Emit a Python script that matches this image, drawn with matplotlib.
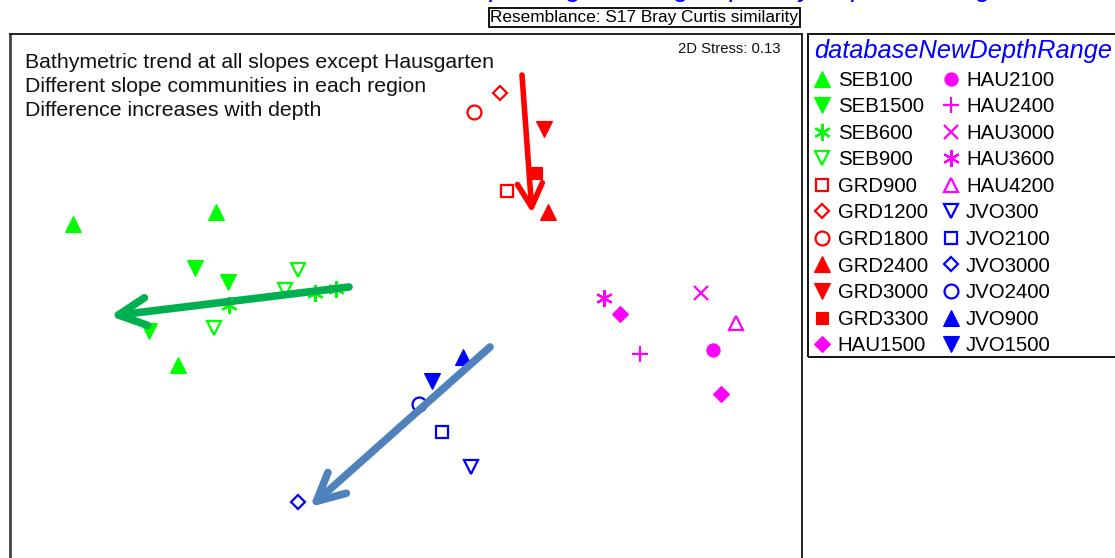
#!/usr/bin/env python3
"""
nMDS ordination of slope samples by region and depth range.
"""

import matplotlib
matplotlib.use("Agg")
import matplotlib.pyplot as plt
from matplotlib.lines import Line2D
from matplotlib.patches import FancyArrowPatch, Rectangle

plt.rcParams['font.family'] = ['Liberation Sans', 'DejaVu Sans']

# --- data (MDS coordinates) ---
groups = ['SEB100', 'SEB1500', 'SEB600', 'SEB900',
          'GRD900', 'GRD1200', 'GRD1800', 'GRD2400', 'GRD3000', 'GRD3300',
          'HAU1500', 'HAU2100', 'HAU2400', 'HAU3000', 'HAU3600', 'HAU4200',
          'JVO300', 'JVO2100', 'JVO3000', 'JVO2400', 'JVO900', 'JVO1500']

mds_x = {
    'SEB100': [-3.27, -1.84, -2.22],
    'SEB1500': [-2.05, -1.72, -2.51],
    'SEB600': [-1.71, -0.85, -0.64],
    'SEB900': [-1.02, -1.15, -1.86],
    'GRD900': [1.07],
    'GRD1200': [1.00],
    'GRD1800': [0.74],
    'GRD2400': [1.48],
    'GRD3000': [1.44],
    'GRD3300': [1.36],
    'HAU1500': [2.20, 3.21],
    'HAU2100': [3.13],
    'HAU2400': [2.40],
    'HAU3000': [3.01],
    'HAU3600': [2.04],
    'HAU4200': [3.36],
    'JVO300': [0.71],
    'JVO2100': [0.42],
    'JVO3000': [-1.02],
    'JVO2400': [0.19],
    'JVO900': [0.63],
    'JVO1500': [0.32],
}
mds_y = {
    'SEB100': [0.76, 0.88, -0.65],
    'SEB1500': [0.32, 0.18, -0.31],
    'SEB600': [-0.05, 0.07, 0.11],
    'SEB900': [0.30, 0.10, -0.28],
    'GRD900': [1.09],
    'GRD1200': [2.07],
    'GRD1800': [1.88],
    'GRD2400': [0.88],
    'GRD3000': [1.71],
    'GRD3300': [1.27],
    'HAU1500': [-0.14, -0.94],
    'HAU2100': [-0.50],
    'HAU2400': [-0.54],
    'HAU3000': [0.07],
    'HAU3600': [0.02],
    'HAU4200': [-0.23],
    'JVO300': [-1.67],
    'JVO2100': [-1.32],
    'JVO3000': [-2.02],
    'JVO2400': [-1.04],
    'JVO900': [-0.57],
    'JVO1500': [-0.81],
}

# depth trend arrows: (start x, start y, end x, end y)
trend_seb = [-0.51, 0.13, -2.90, -0.16]
trend_grd = [1.22, 2.25, 1.32, 0.87]
trend_jvo = [0.90, -0.47, -0.90, -2.07]

notes = ['Bathymetric trend at all slopes except Hausgarten',
         'Different slope communities in each region',
         'Difference increases with depth']

# --- styles ---
region_colors = {'SEB': '#00FF00', 'GRD': '#FF0000', 'HAU': '#FF00FF', 'JVO': '#0000FF'}
ASTERISK = (6, 2, 0)
# marker, filled, size
marker_style = {
    'SEB100': ('^', True, 11), 'SEB1500': ('v', True, 11),
    'SEB600': (ASTERISK, False, 12), 'SEB900': ('v', False, 10),
    'GRD900': ('s', False, 8.5), 'GRD1200': ('D', False, 7),
    'GRD1800': ('o', False, 10), 'GRD2400': ('^', True, 11),
    'GRD3000': ('v', True, 11), 'GRD3300': ('s', True, 8.5),
    'HAU1500': ('D', True, 8), 'HAU2100': ('o', True, 9.5),
    'HAU2400': ('+', False, 12), 'HAU3000': ('x', False, 9.5),
    'HAU3600': (ASTERISK, False, 12), 'HAU4200': ('^', False, 10),
    'JVO300': ('v', False, 10), 'JVO2100': ('s', False, 8.5),
    'JVO3000': ('D', False, 7), 'JVO2400': ('o', False, 10),
    'JVO900': ('^', True, 11), 'JVO1500': ('v', True, 11),
}

W, H = 1115, 558
fig = plt.figure(figsize=(W / 100, H / 100), dpi=100)

# main ordination panel, extends past the bottom edge
ax_l, ax_r, ax_t, ax_b = 10, 802, 34, 570
ax = fig.add_axes([ax_l / W, 1 - ax_b / H, (ax_r - ax_l) / W, (ax_b - ax_t) / H])
ax.set_xlim(-3.90, 4.02)
ax.set_ylim(-2.70, 2.66)
ax.set_xticks([])
ax.set_yticks([])
for s in ax.spines.values():
    s.set_linewidth(1.4)
    s.set_color('#222222')
ax.spines['left'].set_linewidth(2)
ax.spines['left'].set_color('#444444')

handles = []
for g in groups:
    col = region_colors[g[:3]]
    mk, filled, ms = marker_style[g]
    ax.plot(mds_x[g], mds_y[g], linestyle='none', marker=mk, markersize=ms,
            color=col, markerfacecolor=col if filled else 'none',
            markeredgecolor=col, markeredgewidth=0.8 if filled else 1.6,
            zorder=3)
    handles.append(Line2D([], [], linestyle='none', marker=mk, markersize=ms,
                          color=col, markerfacecolor=col if filled else 'none',
                          markeredgecolor=col,
                          markeredgewidth=0.8 if filled else 1.6, label=g))

# trend arrows: colour, shaft width, head length, head half-width (mutation units)
for (x0, y0, x1, y1), col, lw, hl, hw in [(trend_seb, '#00B050', 5.5, 1.0, 0.5),
                                          (trend_grd, '#FF0000', 4.0, 0.85, 0.45),
                                          (trend_jvo, '#4F81BD', 5.5, 1.0, 0.5)]:
    arr = FancyArrowPatch((x0, y0), (x1, y1),
                          arrowstyle=f'->,head_length={hl},head_width={hw}',
                          mutation_scale=20, color=col, linewidth=lw,
                          shrinkA=0, shrinkB=0,
                          capstyle='round', joinstyle='round', zorder=4)
    ax.add_patch(arr)

for i, line in enumerate(notes):
    fig.text(25 / W, 1 - (63 + 24 * i) / H, line,
             fontsize=15.3, va='center', ha='left', color='#111111')

fig.text(780 / W, 1 - 49 / H, '2D Stress: 0.13', fontsize=10.7, ha='right',
         va='center', color='#111111')

# resemblance box
fig.text(644.5 / W, 1 - 17.5 / H, 'Resemblance: S17 Bray Curtis similarity',
         fontsize=12.4, ha='center', va='center',
         bbox=dict(boxstyle='square,pad=0.1', facecolor='white',
                   edgecolor='black', linewidth=1.3))

# title, mostly cut off at the top of the image
fig.text(620 / W, 1 + 4 / H, 'Non-metric MDS of slope megafauna grouped by depth and region',
         fontsize=20, style='italic', color='#0000FF', ha='center', va='baseline')

# legend frame runs past the right edge of the image
fig.add_artist(Rectangle((808 / W, 1 - 357 / H), 330 / W, (357 - 34) / H,
                         transform=fig.transFigure, facecolor='none',
                         edgecolor='black', linewidth=1.3))
leg = fig.legend(handles=handles, ncol=2, loc='upper left',
                 bbox_to_anchor=(809 / W, 1 - 34 / H),
                 title='databaseNewDepthRange', fontsize=14.7,
                 title_fontproperties={'size': 18.3, 'style': 'italic'},
                 frameon=False,
                 handlelength=0.8, handletextpad=0.35, labelspacing=0.37,
                 columnspacing=0.72, borderpad=0.25, borderaxespad=0.0,
                 alignment='left')
leg.get_title().set_color('#0000FF')

fig.savefig('out.png', dpi=100)
